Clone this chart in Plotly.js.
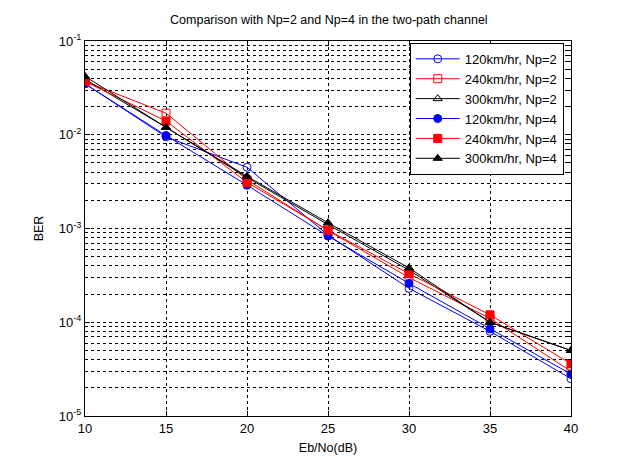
<!DOCTYPE html>
<html>
<head>
<meta charset="utf-8">
<script src="https://cdn.plot.ly/plotly-3.0.1.min.js"></script>
<style>html,body{margin:0;padding:0;background:#fff;}#chart{width:630px;height:463px;}</style>
</head>
<body>
<div id="chart"></div>
<script>
const ebno = [10, 15, 20, 25, 30, 35, 40];
const np2_120 = [0.035, 0.0095, 0.0045, 0.00085, 0.00023, 0.000080, 0.000025];
const np2_240 = [0.037, 0.017, 0.0033, 0.00095, 0.00030, 0.00011, 0.000030];
const np2_300 = [0.039, 0.012, 0.0035, 0.0011, 0.00036, 0.00010, 0.000050];
const np4_120 = [0.035, 0.0098, 0.0029, 0.00083, 0.00026, 0.000085, 0.000028];
const np4_240 = [0.037, 0.0140, 0.0031, 0.00096, 0.00033, 0.00012, 0.000036];
const np4_300 = [0.042, 0.0120, 0.0036, 0.00115, 0.00038, 0.00010, 0.000050];
const seriesNames = ['120km/hr, Np=2', '240km/hr, Np=2', '300km/hr, Np=2', '120km/hr, Np=4', '240km/hr, Np=4', '300km/hr, Np=4'];
const xTicks = [10, 15, 20, 25, 30, 35, 40];
const decades = [-5, -4, -3, -2, -1];

const yTickVals = decades.map(d => Math.pow(10, d));
const yTickText = decades.map(d => '10<sup>' + d + '</sup>');
const yMinorVals = [];
decades.forEach(d => {
  if (d === -1) return;
  for (let m = 2; m <= 9; m++) yMinorVals.push(m * Math.pow(10, d));
});

const styles = [
  {color: '#0000ff', symbol: 'circle-open'},
  {color: '#ff0000', symbol: 'square-open'},
  {color: '#000000', symbol: 'triangle-up-open'},
  {color: '#0000ff', symbol: 'circle'},
  {color: '#ff0000', symbol: 'square'},
  {color: '#000000', symbol: 'triangle-up'}
];
const ys = [np2_120, np2_240, np2_300, np4_120, np4_240, np4_300];
const traces = ys.map((y, i) => ({
  x: ebno, y: y, name: seriesNames[i], type: 'scatter', mode: 'lines+markers',
  line: {color: styles[i].color, width: 1},
  marker: {symbol: styles[i].symbol, size: 8, color: styles[i].color, line: {color: styles[i].color, width: 1}}
}));

const layout = {
  width: 630, height: 463,
  margin: {l: 85, r: 59, t: 41, b: 47},
  paper_bgcolor: '#fff', plot_bgcolor: '#fff',
  font: {family: 'Liberation Sans, Arial, sans-serif', size: 12, color: '#000'},
  title: {text: 'Comparison with Np=2 and Np=4 in the two-path channel', x: 0.522, xanchor: 'center', y: 0.957, yanchor: 'middle', font: {size: 12.5, color: '#000'}},
  showlegend: true,
  legend: {x: 0.985, xanchor: 'right', y: 0.995, yanchor: 'top', bgcolor: '#fff', bordercolor: '#000', borderwidth: 1, font: {size: 13}, tracegroupgap: 0, itemwidth: 44},
  xaxis: {
    range: [10, 40], tickvals: xTicks, ticktext: xTicks.map(String),
    showline: true, linecolor: '#000', linewidth: 1, mirror: 'ticks',
    ticks: 'inside', ticklen: 5, tickcolor: '#000',
    showgrid: true, gridcolor: '#000', gridwidth: 1, griddash: '3px,3px',
    zeroline: false, tickfont: {size: 13},
    title: {text: 'Eb/No(dB)', font: {size: 12.5}, standoff: 8}
  },
  yaxis: {
    type: 'log', range: [-5, -1], tickvals: yTickVals, ticktext: yTickText,
    showline: true, linecolor: '#000', linewidth: 1, mirror: 'ticks',
    ticks: 'inside', ticklen: 5, tickcolor: '#000',
    showgrid: true, gridcolor: '#000', gridwidth: 1, griddash: '3px,3px',
    minor: {tickvals: yMinorVals, ticks: 'inside', ticklen: 3, tickcolor: '#000', showgrid: true, gridcolor: '#000', gridwidth: 1, griddash: '3px,3px'},
    zeroline: false, tickfont: {size: 13},
    title: {text: 'BER', font: {size: 12.5}, standoff: 12}
  }
};
Plotly.newPlot('chart', traces, layout, {staticPlot: true, displayModeBar: false});
</script>
</body>
</html>
